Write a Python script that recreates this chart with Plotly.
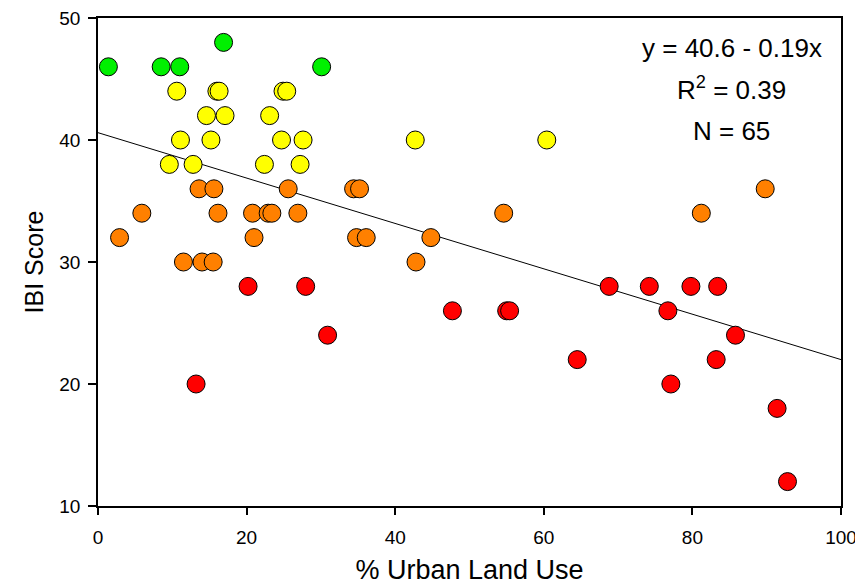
import plotly.graph_objects as go

# ---- data ----
green_x = [1.4, 8.5, 11.0, 16.9, 30.1]
green_y = [46, 46, 46, 48, 46]

yellow_x = [10.6, 16.0, 16.3, 24.9, 25.4,
            14.6, 17.1, 23.1,
            11.1, 15.2, 24.7, 27.6, 42.7, 60.4,
            9.6, 12.8, 22.4, 27.2]
yellow_y = [44, 44, 44, 44, 44,
            42, 42, 42,
            40, 40, 40, 40, 40, 40,
            38, 38, 38, 38]

orange_x = [13.6, 15.6, 25.6, 34.4, 35.2, 89.8,
            5.9, 16.15, 20.8, 22.9, 23.4, 26.9, 54.6, 81.2,
            2.9, 21.0, 34.8, 36.1, 44.8,
            11.5, 14.0, 15.5, 42.8]
orange_y = [36, 36, 36, 36, 36, 36,
            34, 34, 34, 34, 34, 34, 34, 34,
            32, 32, 32, 32, 32,
            30, 30, 30, 30]

red_x = [20.2, 27.95, 68.8, 74.2, 79.8, 83.4,
         47.7, 55.0, 55.4, 76.7,
         30.9, 85.8,
         64.5, 83.2,
         13.2, 77.1,
         91.4, 92.8]
red_y = [28, 28, 28, 28, 28, 28,
         26, 26, 26, 26,
         24, 24,
         22, 22,
         20, 20,
         18, 12]

fit_intercept = 40.6
fit_slope = -0.186
fit_x = [0, 100]

x_ticks = [0, 20, 40, 60, 80, 100]
y_ticks = [10, 20, 30, 40, 50]

stats_lines = ["y = 40.6 - 0.19x", "R<sup>2</sup> = 0.39", "N = 65"]
stats_y = [47.55, 44.2, 40.75]

FONT = "Liberation Sans, Arial, sans-serif"

fig = go.Figure()

fig.add_trace(go.Scatter(
    x=fit_x, y=[fit_intercept + fit_slope * v for v in fit_x],
    mode="lines", line=dict(color="black", width=1), showlegend=False,
    hoverinfo="skip"))

for xs, ys, col in [(green_x, green_y, "#00F000"),
                    (yellow_x, yellow_y, "#FFFF00"),
                    (orange_x, orange_y, "#FF8000"),
                    (red_x, red_y, "#FF0000")]:
    fig.add_trace(go.Scatter(
        x=xs, y=ys, mode="markers", showlegend=False,
        marker=dict(size=18, color=col, line=dict(color="black", width=1))))

for txt, yv in zip(stats_lines, stats_y):
    fig.add_annotation(x=85.3, y=yv, xref="x", yref="y", text=txt,
                       showarrow=False, xanchor="center", yanchor="middle",
                       font=dict(family=FONT, size=26, color="black"))

# page body has an 8px margin: size the figure so it fits the window
fig.update_layout(
    width=855, height=578,
    margin=dict(l=90, r=22, t=10, b=80, autoexpand=False),
    paper_bgcolor="white", plot_bgcolor="white",
    font=dict(family=FONT, color="black"),
)

fig.update_xaxes(
    range=[0, 100], tickvals=x_ticks, ticktext=[str(v) for v in x_ticks],
    showgrid=False, zeroline=False, showline=True, linecolor="black",
    linewidth=1.5, mirror=True, ticks="outside", ticklen=7, tickwidth=1.5,
    tickcolor="black", tickfont=dict(family=FONT, size=19),
    ticklabelstandoff=6, automargin=False, ticklabeloverflow="allow",
    title=dict(text="% Urban Land Use", font=dict(family=FONT, size=27),
               standoff=14),
)
fig.update_yaxes(
    range=[10, 50], tickvals=y_ticks, ticktext=[str(v) for v in y_ticks],
    showgrid=False, zeroline=False, showline=True, linecolor="black",
    linewidth=1.5, mirror=True, ticks="outside", ticklen=8, tickwidth=1.5,
    tickcolor="black", tickfont=dict(family=FONT, size=19),
    ticklabelstandoff=4, automargin=False, ticklabeloverflow="allow",
    title=dict(text="IBI Score", font=dict(family=FONT, size=25),
               standoff=9),
)

fig.write_html("out.html")
